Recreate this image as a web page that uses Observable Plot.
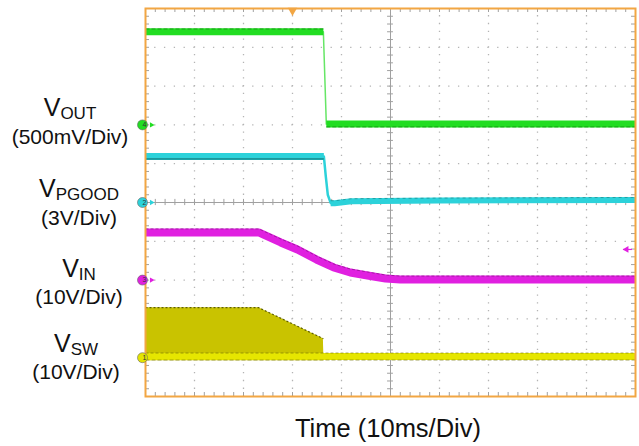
<!DOCTYPE html>
<html>
<head>
<meta charset="utf-8">
<script src="https://cdn.jsdelivr.net/npm/d3@7"></script>
<script src="https://cdn.jsdelivr.net/npm/@observablehq/plot@0.6"></script>
<style>
  html, body { margin: 0; padding: 0; background: #fff; }
  svg { display: block; }
</style>
</head>
<body>
<script>
// ---- Data read from the scope capture (time in ms, volts per channel) ----
// Channel settings: scale (V/div) and ground offset (divisions from bottom)
const channels = ["VSW", "VPGOOD", "VIN", "VOUT"];
const chanNum = ["1", "2", "3", "4"];
const chanScale = [10, 3, 10, 0.5];
const chanOffset = [1, 5, 3, 7];
const chanColor = ["#e4e400", "#2cd2da", "#e020e0", "#22dd22"];

// VOUT (500mV/div)
const voutT = [0, 36.3, 36.9, 100];
const voutV = [1.2, 1.2, 0.01, 0.01];

// VPGOOD (3V/div)
const pgT = [0, 36.4, 36.8, 37.2, 37.8, 38.6, 42, 60, 100];
const pgV = [3.56, 3.56, 2.0, 0.6, -0.05, -0.06, 0.1, 0.15, 0.2];

// VIN (10V/div)
const vinT = [0, 23.1, 27.6, 31.0, 34.9, 38.4, 41.8, 45.3, 49.0, 52.0, 100];
const vinV = [12.3, 12.3, 9.7, 7.9, 5.3, 3.25, 1.96, 1.19, 0.41, 0.15, 0.15];

// VSW (10V/div): switching envelope and low level
const vswT = [0, 23.1, 36.3, 36.4];
const vswTop = [12.9, 12.9, 4.9, 0.3];
const vswBaseT = [0, 100];
const vswBaseV = [0.3, 0.3];

// Trigger: time position and VIN trigger level
const trigT = 30;
const trigLevel = 7.9;

// Axis labels
const labels = [
  {main: "V", sub: "OUT", scale: "(500mV/Div)"},
  {main: "V", sub: "PGOOD", scale: "(3V/Div)"},
  {main: "V", sub: "IN", scale: "(10V/Div)"},
  {main: "V", sub: "SW", scale: "(10V/Div)"}
];
const xTitle = "Time (10ms/Div)";

// ---- Build tables ----
const toDiv = (ch, v) => chanOffset[ch] + v / chanScale[ch];
const vout = voutT.map((t, i) => ({t, y: toDiv(3, voutV[i])}));
const pg = pgT.map((t, i) => ({t, y: toDiv(1, pgV[i])}));
const vin = vinT.map((t, i) => ({t, y: toDiv(2, vinV[i])}));
const vsw = vswT.map((t, i) => ({t, y: toDiv(0, vswTop[i]), y0: toDiv(0, -0.8)}));
const vswBase = vswBaseT.map((t, i) => ({t, y: toDiv(0, vswBaseV[i])}));
const chans = channels.map((name, i) => ({name, num: chanNum[i], off: chanOffset[i], color: chanColor[i]}));

// ---- Layout ----
const W = 639, H = 446, mL = 145, mR = 4, mT = 8, mB = 50;
const pw = W - mL - mR, ph = H - mT - mB;
const orange = "#f2a643";
const gridC = "#b4b4b4";
const centerC = "#a0a0a0";
const L = {strokeLinecap: "butt", clip: true};

const xDiv = d3.range(10, 100, 10).filter(d => d !== 50);
const yDiv = d3.range(1, 10, 1).filter(d => d !== 5);
const xMinor = d3.range(0, 100.001, 2);
const yMinor = d3.range(0, 10.001, 0.2);

const plot = Plot.plot({
  width: W, height: H,
  marginLeft: mL, marginRight: mR, marginTop: mT, marginBottom: mB,
  x: {domain: [0, 100], axis: null},
  y: {domain: [0, 10], axis: null},
  color: {type: "identity"},
  style: {background: "white", overflow: "visible"},
  marks: [
    // dotted division grid
    Plot.ruleX(xDiv, {x: d => d, stroke: gridC, strokeWidth: 1.3, strokeDasharray: `1.3,${ph / 50 - 1.3}`, strokeDashoffset: 0.65}),
    Plot.ruleY(yDiv, {y: d => d, stroke: gridC, strokeWidth: 1.3, strokeDasharray: `1.3,${pw / 50 - 1.3}`, strokeDashoffset: 0.65}),
    // center axes with ticks
    Plot.ruleX([50], {x: d => d, stroke: centerC, strokeWidth: 1}),
    Plot.ruleY([5], {y: d => d, stroke: centerC, strokeWidth: 1}),
    Plot.ruleX(xMinor, {x: d => d, y1: 4.92, y2: 5.08, stroke: centerC}),
    Plot.ruleY(yMinor, {y: d => d, x1: 49.4, x2: 50.6, stroke: centerC}),
    // edge ticks
    Plot.ruleX(xMinor, {x: d => d, insetTop: ph - 4, stroke: centerC}),
    Plot.ruleX(xMinor, {x: d => d, insetBottom: ph - 4, stroke: centerC}),
    Plot.ruleY(yMinor, {y: d => d, insetRight: pw - 4, stroke: centerC}),
    Plot.ruleY(yMinor, {y: d => d, insetLeft: pw - 4, stroke: centerC}),

    // VSW
    Plot.areaY(vsw, {x: "t", y1: "y0", y2: "y", fill: "#c9c300", clip: true}),
    Plot.line(vswBase, {x: "t", y: "y", stroke: "#e6e600", strokeWidth: 7, ...L}),
    Plot.line(vswBase, {x: "t", y: "y", dy: -3.5, stroke: "#6e6e00", strokeWidth: 1, strokeDasharray: "3,2", strokeOpacity: 0.6, ...L}),
    Plot.line(vswBase, {x: "t", y: "y", dy: 3.5, stroke: "#6e6e00", strokeWidth: 1, strokeDasharray: "4,2", strokeOpacity: 0.6, ...L}),
    Plot.line(vsw, {x: "t", y: "y", filter: d => d.t <= 36.3, stroke: "#5e5e00", strokeWidth: 1.2, strokeDasharray: "2,2", ...L}),

    // VIN
    Plot.line(vin, {x: "t", y: "y", stroke: "#e020e0", strokeWidth: 8, ...L}),
    Plot.line(vin, {x: "t", y: "y", dy: -3.5, stroke: "#7a107a", strokeWidth: 1, strokeDasharray: "3,2", strokeOpacity: 0.6, ...L}),

    // VPGOOD
    Plot.line(pg, {x: "t", y: "y", stroke: "#2cd2da", strokeWidth: 2.5, ...L}),
    Plot.line(pg, {x: "t", y: "y", filter: d => d.t <= 36.4, stroke: "#2cd2da", strokeWidth: 7, ...L}),
    Plot.line(pg, {x: "t", y: "y", filter: d => d.t >= 37.8, stroke: "#2cd2da", strokeWidth: 6, ...L}),
    Plot.line(pg, {x: "t", y: "y", filter: d => d.t <= 36.4, dy: 2.5, stroke: "#0d6a6a", strokeWidth: 1, ...L}),
    Plot.line(pg, {x: "t", y: "y", filter: d => d.t >= 37.8, dy: -2.5, stroke: "#0d6a6a", strokeWidth: 0.8, strokeDasharray: "3,3", strokeOpacity: 0.6, ...L}),

    // VOUT
    Plot.line(vout, {x: "t", y: "y", stroke: "#66e666", strokeWidth: 1.5, ...L}),
    Plot.line(vout, {x: "t", y: "y", filter: d => d.t <= 36.3, stroke: "#22dd22", strokeWidth: 7, ...L}),
    Plot.line(vout, {x: "t", y: "y", filter: d => d.t >= 36.9, stroke: "#22dd22", strokeWidth: 7, ...L}),
    Plot.line(vout, {x: "t", y: "y", filter: d => d.t <= 36.3, dy: -2.8, stroke: "#0a7a0a", strokeWidth: 1, strokeDasharray: "4,2", strokeOpacity: 0.6, ...L}),
    Plot.line(vout, {x: "t", y: "y", filter: d => d.t >= 36.9, dy: 2.8, stroke: "#0a7a0a", strokeWidth: 1, strokeDasharray: "4,2", strokeOpacity: 0.6, ...L}),

    // frame
    Plot.frame({stroke: orange, strokeWidth: 2}),

    // trigger markers
    Plot.dot([trigT], {x: d => d, frameAnchor: "top", dy: 2, symbol: "triangle", rotate: 180, r: 3.5, fill: orange}),
    Plot.ruleY([toDiv(2, trigLevel)], {y: d => d, insetLeft: pw - 12, insetRight: 3, stroke: "#e020e0", strokeWidth: 1.2}),
    Plot.dot([toDiv(2, trigLevel)], {y: d => d, frameAnchor: "right", dx: -9, symbol: "triangle", rotate: -90, r: 2.5, fill: "#e020e0"}),

    // channel ground markers
    Plot.dot(chans, {y: "off", frameAnchor: "left", dx: 6, symbol: "triangle", rotate: 90, r: 2, fill: "color"}),
    Plot.dot(chans, {y: "off", frameAnchor: "left", dx: -3, r: 5, fill: "color", stroke: "#666", strokeWidth: 0.6}),
    Plot.text(chans, {y: "off", frameAnchor: "left", dx: -3, text: "num", fontSize: 7, fill: "#333", fontFamily: "Liberation Sans, Arial, sans-serif"})
  ]
});
document.body.appendChild(plot);

// ---- Text labels (left side and x title) ----
const svg = d3.select(plot);
const font = "Liberation Sans, Arial, sans-serif";
const labelPos = [
  {cx: 70, y1: 116, y2: 143.5},
  {cx: 79, y1: 197, y2: 224.5},
  {cx: 79, y1: 277, y2: 303.5},
  {cx: 76, y1: 352, y2: 378.5}
];
labels.forEach((Lb, i) => {
  const p = labelPos[i];
  const t = svg.append("text")
    .attr("x", p.cx).attr("y", p.y1)
    .attr("text-anchor", "middle")
    .attr("font-family", font).attr("fill", "#111");
  t.append("tspan").attr("font-size", 25).text(Lb.main);
  t.append("tspan").attr("font-size", 17).attr("dy", 3).text(Lb.sub);
  svg.append("text")
    .attr("x", p.cx).attr("y", p.y2)
    .attr("text-anchor", "middle")
    .attr("font-family", font).attr("font-size", 21).attr("fill", "#111")
    .text(Lb.scale);
});
svg.append("text")
  .attr("x", 388).attr("y", 437)
  .attr("text-anchor", "middle")
  .attr("font-family", font).attr("font-size", 25.5).attr("fill", "#111")
  .text(xTitle);
</script>
</body>
</html>
